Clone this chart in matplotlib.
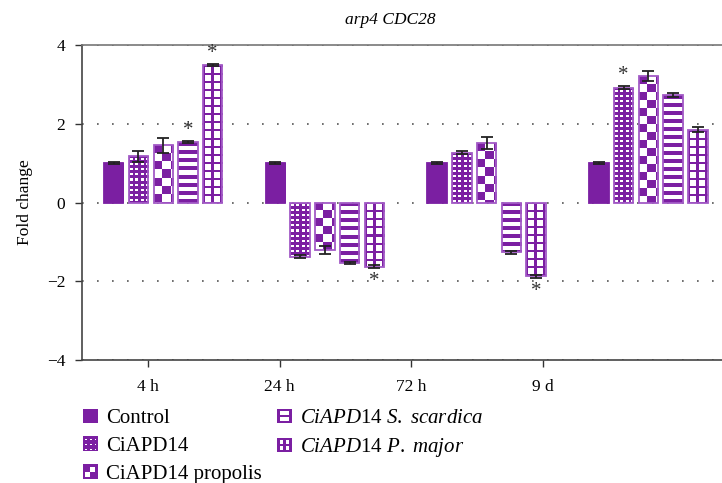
import numpy as np
import matplotlib
matplotlib.use('Agg')
import matplotlib.pyplot as plt
from matplotlib.patches import Rectangle
from matplotlib.colors import ListedColormap

plt.rcParams['font.family'] = ['Liberation Serif', 'DejaVu Serif']
plt.rcParams['mathtext.fontset'] = 'custom'
plt.rcParams['mathtext.rm'] = 'Liberation Serif'
plt.rcParams['mathtext.it'] = 'Liberation Serif:italic'

# data
groups = ['4 h', '24 h', '72 h', '9 d']
series = ['Control', 'CiAPD14', 'CiAPD14 propolis',
          r'$\mathit{CiAPD}$14 $\mathit{S.\ scardica}$',
          r'$\mathit{CiAPD}$14 $\mathit{P.\ major}$']
control = [1.0, 1.0, 1.01, 1.0]
ciapd14 = [1.17, -1.38, 1.27, 2.92]
propolis = [1.45, -1.21, 1.51, 3.22]
scardica = [1.53, -1.53, -1.26, 2.74]
major = [3.49, -1.63, -1.87, 1.85]
control_err = [0.02, 0.02, 0.02, 0.02]
ciapd14_err = [0.15, 0.04, 0.03, 0.04]
propolis_err = [0.18, 0.10, 0.15, 0.13]
scardica_err = [0.03, 0.03, 0.04, 0.05]
major_err = [0.03, 0.04, 0.04, 0.06]
# significance marks (*)
control_sig = [0, 0, 0, 0]
ciapd14_sig = [0, 0, 0, 1]
propolis_sig = [0, 0, 0, 0]
scardica_sig = [1, 0, 0, 0]
major_sig = [1, 1, 1, 0]

values = [control, ciapd14, propolis, scardica, major]
errors = [control_err, ciapd14_err, propolis_err, scardica_err, major_err]
sigs = [control_sig, ciapd14_sig, propolis_sig, scardica_sig, major_sig]

purple = '#7b1fa2'
edge = '#a25ac6'
cmap = ListedColormap(['white', purple])


# fill patterns, pixel based (True = purple)
def pat_solid(r, c):
    return np.ones(np.broadcast(r, c).shape, bool)


def pat_dots(r, c):
    return ~(((r % 5) >= 2) & ((r % 5) <= 3) & ((c % 5) >= 1) & ((c % 5) <= 3))


def pat_checker(r, c):
    return ((r // 8 + c // 8) % 2) == 0


def pat_stripes(r, c):
    return (r % 8) < 4


def pat_grid(r, c):
    return ((r % 8) < 2) | ((c % 8) < 2)


patterns = [pat_solid, pat_dots, pat_checker, pat_stripes, pat_grid]

fig = plt.figure(figsize=(7.22, 4.83), dpi=100)
ax = fig.add_axes([0.1136, 0.2547, 0.8864, 0.652])

xlim = (-0.196, 3.761)
ylim = (-4, 4)
px_x = 0.8864 * 722 / (xlim[1] - xlim[0])
px_y = 0.652 * 483 / (ylim[1] - ylim[0])

step = 0.153
width = 0.12
gx = np.arange(len(groups))

for j in range(5):
    x = gx + j * step
    bars = ax.bar(x, values[j], width, yerr=errors[j], facecolor='none',
                  edgecolor='none', zorder=2,
                  error_kw=dict(ecolor='#222222', elinewidth=1.3,
                                capsize=4.5, capthick=1.3, zorder=4))
    for b, v in zip(bars, values[j]):
        x0 = b.get_x()
        nc = max(int(round(width * px_x)), 1)
        nr = max(int(round(abs(v) * px_y)), 1)
        r, c = np.mgrid[0:nr, 0:nc]
        arr = patterns[j](r, c).astype(float)
        if v >= 0:
            ext = (x0, x0 + width, 0, v)
        else:
            ext = (x0, x0 + width, v, 0)
        im = ax.imshow(arr, extent=ext, aspect='auto', origin='upper', cmap=cmap,
                       vmin=0, vmax=1, interpolation='nearest', zorder=2.5)
        im.set_clip_path(b)
        ax.add_patch(Rectangle((x0, 0), width, v, fill=False,
                               edgecolor=purple if j == 0 else edge,
                               linewidth=1.3, zorder=3))
    for xi, v, e, s in zip(x, values[j], errors[j], sigs[j]):
        if s:
            sign = 1 if v >= 0 else -1
            ax.annotate('*', xy=(xi, v + sign * e), xytext=(0, 1 if sign > 0 else -3),
                        textcoords='offset points', ha='center',
                        va='bottom' if sign > 0 else 'top',
                        fontsize=15, color='#333333', zorder=5)

tick0 = 0.212
tick_step = 0.8145
ax.set_xticks(tick0 + np.arange(len(groups)) * tick_step)
ax.set_xticklabels(groups)
ax.set_xlim(*xlim)
ax.set_ylim(*ylim)
ax.set_yticks([-4, -2, 0, 2, 4])
ax.set_yticklabels(['\u22124', '\u22122', '0', '2', '4'])
ax.tick_params(labelsize=12.5, length=5, width=1, color='#333333', direction='out')
ax.tick_params(axis='x', pad=9)
ax.tick_params(axis='y', pad=7)
ax.set_ylabel('Fold change', fontsize=12.5)
ax.yaxis.set_label_coords(-0.077, 0.5)
ax.set_title('arp4 CDC28', fontstyle='italic', fontsize=12.5, pad=15, x=0.481)

ax.set_axisbelow(True)
ax.yaxis.grid(True, linestyle=(0, (1, 8)), color='#555555', linewidth=1.2)
for sp in ['left', 'bottom']:
    ax.spines[sp].set_color('#444444')
    ax.spines[sp].set_linewidth(1.2)
ax.spines['top'].set_color('#777777')
ax.spines['top'].set_linewidth(1.2)
ax.spines['right'].set_visible(False)


class PatternHandler:
    def __init__(self, pat, border):
        self.pat = pat
        self.border = border

    def legend_artist(self, legend, orig_handle, fontsize, handlebox):
        x0, y0 = -handlebox.xdescent, -handlebox.ydescent
        w, h = handlebox.width, handlebox.height
        tr = handlebox.get_transform()
        n = 12
        r, c = np.mgrid[0:n, 0:n]
        m = self.pat(r, c)
        if self.border:
            m = m | (r < 2) | (r >= n - 2) | (c < 2) | (c >= n - 2)
        bg = Rectangle((x0, y0), w, h, facecolor='white', linewidth=0, transform=tr)
        handlebox.add_artist(bg)
        cw, chh = w / n, h / n
        for i in range(n):
            k = 0
            while k < n:
                if m[i, k]:
                    k2 = k
                    while k2 < n and m[i, k2]:
                        k2 += 1
                    handlebox.add_artist(Rectangle((x0 + k * cw, y0 + h - (i + 1) * chh),
                                                   (k2 - k) * cw, chh, facecolor=purple,
                                                   linewidth=0, antialiased=False,
                                                   transform=tr))
                    k = k2
                else:
                    k += 1
        return bg


legend_pats = [pat_solid,
               lambda r, c: ~(((r % 4) == 2) & ((c % 4) == 2)) | (r < 1),
               lambda r, c: ((r // 6 + c // 6) % 2) == 0,
               lambda r, c: (r >= 5) & (r <= 6),
               lambda r, c: (r >= 5) & (r <= 6) | (c >= 5) & (c <= 6)]

handles = [Rectangle((0, 0), 1, 1, facecolor=purple) for j in range(5)]
hmap = {h: PatternHandler(legend_pats[j], j >= 2) for j, h in enumerate(handles)}

fig.legend(handles, series, loc='upper left', bbox_to_anchor=(0.089, 0.193),
           ncol=2, frameon=False, fontsize=15, handlelength=0.7, handleheight=0.7,
           handletextpad=0.4, labelspacing=0.4, columnspacing=0.75,
           handler_map=hmap)

fig.savefig('out.png', dpi=100)
